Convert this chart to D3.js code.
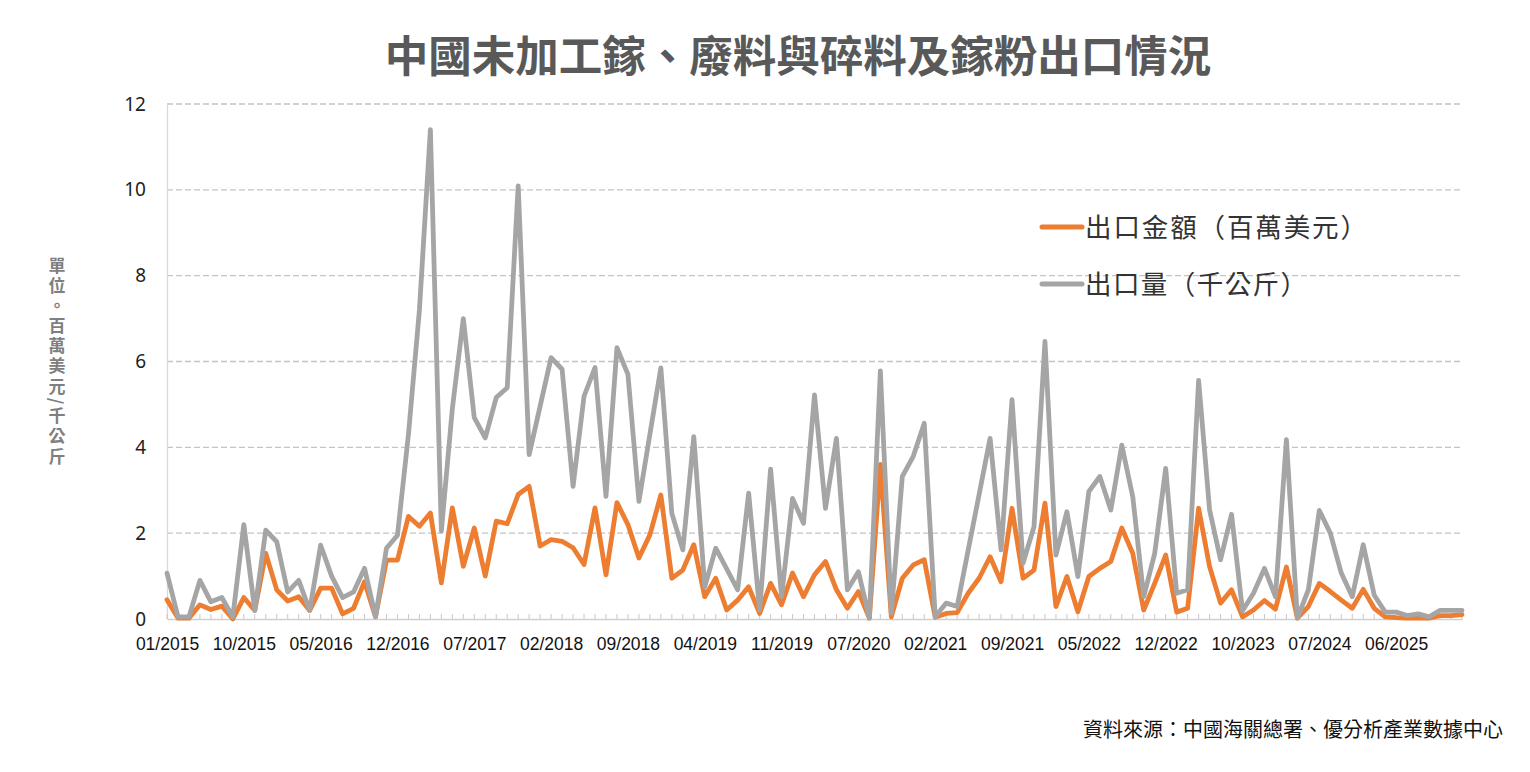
<!DOCTYPE html>
<html><head><meta charset="utf-8">
<script src="https://cdn.jsdelivr.net/npm/d3@7"></script>
<style>body{margin:0;background:#fff;overflow:hidden}</style>
</head><body><svg id="c" width="1530" height="772"></svg>
<script>
// 出口金額（百萬美元）
const valueSeries = [0.45,0.02,0.02,0.33,0.22,0.3,0.0,0.5,0.2,1.53,
0.68,0.42,0.52,0.2,0.72,0.72,0.12,0.25,0.87,0.05,
1.37,1.37,2.39,2.16,2.47,0.84,2.59,1.23,2.12,1.0,
2.28,2.22,2.9,3.09,1.7,1.85,1.81,1.66,1.27,2.59,
1.03,2.71,2.2,1.42,1.96,2.89,0.95,1.14,1.73,0.52,
0.95,0.21,0.44,0.75,0.13,0.83,0.33,1.07,0.52,1.03,
1.34,0.68,0.25,0.64,0.02,3.6,0.05,0.95,1.26,1.38,
0.04,0.13,0.15,0.6,0.95,1.45,0.87,2.58,0.95,1.14,
2.7,0.29,0.99,0.17,0.99,1.18,1.34,2.12,1.53,0.21,
0.83,1.49,0.16,0.25,2.58,1.22,0.37,0.68,0.05,0.21,
0.43,0.23,1.21,0.02,0.29,0.83,0.64,0.44,0.25,0.69,
0.25,0.05,0.03,0.02,0.02,0.02,0.08,0.08,0.1];
// 出口量（千公斤）
const volumeSeries = [1.07,0.05,0.05,0.9,0.4,0.5,0.05,2.2,0.2,2.07,
1.8,0.63,0.9,0.2,1.72,1.0,0.5,0.63,1.18,0.05,
1.65,1.95,4.3,7.2,11.4,2.05,4.9,7.0,4.69,4.22,
5.16,5.39,10.09,3.83,4.96,6.09,5.82,3.09,5.19,5.86,
2.86,6.32,5.7,2.74,4.3,5.85,2.46,1.61,4.25,0.75,
1.65,1.17,0.68,2.93,0.21,3.49,0.52,2.81,2.23,5.22,
2.58,4.21,0.68,1.1,0.02,5.78,0.13,3.32,3.79,4.56,
0.05,0.37,0.29,1.6,2.9,4.21,1.61,5.11,1.3,2.15,
6.47,1.49,2.5,0.99,2.97,3.32,2.54,4.05,2.85,0.52,
1.53,3.51,0.6,0.68,5.56,2.54,1.38,2.44,0.19,0.6,
1.18,0.52,4.18,0.02,0.68,2.53,2.0,1.07,0.52,1.73,
0.56,0.16,0.16,0.08,0.12,0.05,0.2,0.2,0.2];
const tickLabels = ["01/2015","10/2015","05/2016","12/2016","07/2017","02/2018","09/2018","04/2019","11/2019","07/2020","02/2021","09/2021","05/2022","12/2022","10/2023","07/2024","06/2025"];
const labelEvery = 7;
const yTicks = [0,2,4,6,8,10,12];
const seriesNames = ["出口金額（百萬美元）","出口量（千公斤）"];
const seriesColors = ["#ED7D31","#A5A5A5"];

const categories = valueSeries.map((_, i) => i);
const svg = d3.select("#c");
const L = 167, R = 1462, T = 104, B = 619;
const x = d3.scalePoint().domain(categories).range([L, R]);
const y = d3.scaleLinear().domain([0, 12]).range([B, T]);

// title
svg.append("text").attr("x", 798).attr("y", 72).attr("text-anchor", "middle")
  .attr("font-family", "'Noto Sans CJK TC','Noto Sans CJK SC',sans-serif")
  .attr("font-weight", 700).attr("font-size", 43.5).attr("fill", "#595959")
  .text("中國未加工鎵、廢料與碎料及鎵粉出口情況");

// gridlines
svg.append("g").selectAll("line").data(yTicks.filter(d => d > 0)).join("line")
  .attr("x1", L).attr("x2", R).attr("y1", d => y(d)).attr("y2", d => y(d))
  .attr("stroke", "#c4c4c4").attr("stroke-width", 1.3).attr("stroke-dasharray", "6,3");

// y axis
const yAxis = d3.axisLeft(y).tickValues(yTicks).tickSize(0).tickPadding(21);
const gy = svg.append("g").attr("transform", `translate(${L},0)`).call(yAxis);
gy.select(".domain").attr("stroke", "#d9d9d9").attr("stroke-width", 1.3);
gy.selectAll("text").attr("font-family", "'Noto Sans',sans-serif").attr("font-size", 19).attr("fill", "#222");

// x axis
const xAxis = d3.axisBottom(x).tickSize(0).tickPadding(19)
  .tickValues(categories.filter(i => i % labelEvery === 0 && i / labelEvery < tickLabels.length))
  .tickFormat(i => tickLabels[i / labelEvery]);
const gx = svg.append("g").attr("transform", `translate(0,${B})`).call(xAxis);
gx.select(".domain").attr("stroke", "#d0d0d0").attr("stroke-width", 1.5);
gx.selectAll("text").attr("font-family", "'Liberation Sans',Arial,sans-serif").attr("font-size", 17.5).attr("fill", "#111");
// minor tick marks at each category (inward)
svg.append("g").selectAll("line").data(categories).join("line")
  .attr("x1", d => x(d)).attr("x2", d => x(d)).attr("y1", B).attr("y2", B - 5)
  .attr("stroke", "#c8c8c8").attr("stroke-width", 1);

// lines
const line = d3.line().x((d, i) => x(i)).y(d => y(d));
[valueSeries, volumeSeries].forEach((s, k) => {
  svg.append("path").datum(s).attr("d", line).attr("fill", "none")
    .attr("stroke", seriesColors[k]).attr("stroke-width", 4.8)
    .attr("stroke-linejoin", "round").attr("stroke-linecap", "round");
});

// y axis title
svg.append("text").attr("x", 57).attr("y", 257)
  .attr("writing-mode", "vertical-rl")
  .style("writing-mode", "vertical-rl")
  .attr("font-family", "'Noto Sans CJK TC','Noto Sans CJK SC',sans-serif")
  .attr("font-weight", 700).attr("font-size", 17).attr("letter-spacing", 3.1)
  .attr("fill", "#7f7f7f")
  .text("單位。百萬美元/千公斤");

// legend
const legY = [227, 284];
const legLen = [282, 222];
seriesNames.forEach((n, k) => {
  svg.append("line").attr("x1", 1042).attr("x2", 1082).attr("y1", legY[k]).attr("y2", legY[k])
    .attr("stroke", seriesColors[k]).attr("stroke-width", 5).attr("stroke-linecap", "round");
  svg.append("text").attr("x", 1085).attr("y", legY[k]).attr("dy", "0.36em")
    .attr("font-family", "'Noto Sans CJK TC','Noto Sans CJK SC',sans-serif")
    .attr("font-size", 26.5).attr("fill", "#333")
    .attr("textLength", legLen[k]).attr("lengthAdjust", "spacing").text(n);
});

// source
svg.append("text").attr("x", 1503).attr("y", 737).attr("text-anchor", "end")
  .attr("font-family", "'Noto Sans CJK TC','Noto Sans CJK SC',sans-serif")
  .attr("font-size", 20).attr("fill", "#111")
  .text("資料來源：中國海關總署、優分析產業數據中心");
</script></body></html>
